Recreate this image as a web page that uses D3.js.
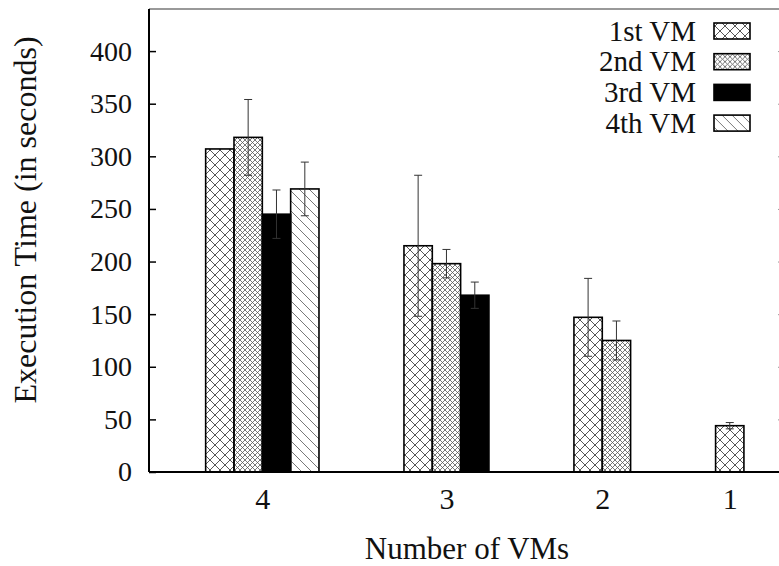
<!DOCTYPE html>
<html>
<head>
<meta charset="utf-8">
<script src="https://cdn.jsdelivr.net/npm/d3@7"></script>
<style>
  body { margin: 0; background: #fff; }
  text { font-family: "Liberation Serif", "Times New Roman", serif; fill: #111; }
</style>
</head>
<body>
<script>
// Data
var groups = ["4", "3", "2", "1"];
var series = ["1st VM", "2nd VM", "3rd VM", "4th VM"];
var vm1 = [307, 215, 147, 44];
var vm2 = [318, 198, 125, null];
var vm3 = [245, 168, null, null];
var vm4 = [269, null, null, null];
var err1 = [0, 67, 37, 3];
var err2 = [36, 13.5, 18.5, null];
var err3 = [23, 12.5, null, null];
var err4 = [25.5, null, null, null];
var yTicks = [0, 50, 100, 150, 200, 250, 300, 350, 400];

var values = [vm1, vm2, vm3, vm4];
var errors = [err1, err2, err3, err4];

var width = 779, height = 566;
var plotL = 149, plotR = 785, plotT = 9, plotB = 472;

var svg = d3.select("body").append("svg")
    .attr("width", width)
    .attr("height", height);

// fill patterns, one per VM
var defs = svg.append("defs");
var p1 = defs.append("pattern").attr("id", "p1")
    .attr("patternUnits", "userSpaceOnUse").attr("width", 10).attr("height", 10);
p1.append("path").attr("d", "M0,0L10,10M10,0L0,10M-1,9L1,11M9,-1L11,1")
    .attr("stroke", "#444").attr("stroke-width", 0.9);
var p2 = defs.append("pattern").attr("id", "p2")
    .attr("patternUnits", "userSpaceOnUse").attr("width", 5).attr("height", 5);
p2.append("path").attr("d", "M0,0L5,5M5,0L0,5")
    .attr("stroke", "#555").attr("stroke-width", 0.8);
var p4 = defs.append("pattern").attr("id", "p4")
    .attr("patternUnits", "userSpaceOnUse").attr("width", 10).attr("height", 10);
p4.append("path").attr("d", "M0,0L10,10M-5,5L5,15M5,-5L15,5")
    .attr("stroke", "#555").attr("stroke-width", 0.8);
var fills = ["url(#p1)", "url(#p2)", "#000", "url(#p4)"];

// build clustered layout: bars of a cluster sit side by side, 3 bar widths between clusters
var rows = [];
var centers = [];
var pos = 2;
groups.forEach(function (g, gi) {
    var n = 0;
    series.forEach(function (s, si) {
        if (values[si][gi] != null) {
            rows.push({ group: g, series: si, x0: pos + n, value: values[si][gi], err: errors[si][gi] });
            n++;
        }
    });
    centers.push(pos + n / 2);
    pos += n + 3;
});

var x = d3.scaleLinear().domain([0, 22.45]).range([plotL, plotR]);
var y = d3.scaleLinear().domain([0, 440]).range([plotB, plotT]);

// Bars
svg.append("g")
    .selectAll("rect")
    .data(rows)
    .enter().append("rect")
    .attr("x", function (d) { return x(d.x0); })
    .attr("y", function (d) { return y(d.value); })
    .attr("width", x(1) - x(0))
    .attr("height", function (d) { return y(0) - y(d.value); })
    .attr("fill", function (d) { return fills[d.series]; })
    .attr("stroke", "#000")
    .attr("stroke-width", 1.6);

// Error bars
var eb = svg.append("g")
    .selectAll("g")
    .data(rows.filter(function (d) { return d.err; }))
    .enter().append("g")
    .attr("stroke", "#333")
    .attr("stroke-width", 1);
eb.append("line")
    .attr("x1", function (d) { return x(d.x0 + 0.5); })
    .attr("x2", function (d) { return x(d.x0 + 0.5); })
    .attr("y1", function (d) { return y(d.value - d.err); })
    .attr("y2", function (d) { return y(d.value + d.err); });
eb.selectAll(".cap")
    .data(function (d) { return [d.value - d.err, d.value + d.err].map(function (v) { return { x0: d.x0, v: v }; }); })
    .enter().append("line")
    .attr("class", "cap")
    .attr("x1", function (d) { return x(d.x0 + 0.5) - 4; })
    .attr("x2", function (d) { return x(d.x0 + 0.5) + 4; })
    .attr("y1", function (d) { return y(d.v); })
    .attr("y2", function (d) { return y(d.v); });

// Axes
var yAxis = svg.append("g")
    .attr("transform", "translate(" + plotL + ",0)")
    .call(d3.axisLeft(y).tickValues(yTicks).tickSize(-7).tickPadding(17));
yAxis.select(".domain").remove();
yAxis.selectAll("line").attr("stroke", "#000").attr("stroke-width", 1.5);
yAxis.selectAll("text").attr("font-size", "28px").style("font-family", "Liberation Serif").attr("fill", "#111");

var yAxisR = svg.append("g")
    .attr("transform", "translate(" + plotR + ",0)")
    .call(d3.axisRight(y).tickValues(yTicks).tickSize(-7).tickFormat(""));
yAxisR.select(".domain").remove();
yAxisR.selectAll("line").attr("stroke", "#999").attr("stroke-width", 1);

var xAxis = svg.append("g")
    .attr("transform", "translate(0," + plotB + ")")
    .call(d3.axisBottom(x).tickValues(centers).tickSize(0).tickPadding(16)
        .tickFormat(function (d, i) { return groups[i]; }));
xAxis.select(".domain").remove();
xAxis.selectAll("text").attr("font-size", "30px").style("font-family", "Liberation Serif").attr("fill", "#111");

// Frame
svg.append("line").attr("x1", plotL).attr("x2", plotR).attr("y1", plotT).attr("y2", plotT)
    .attr("stroke", "#777").attr("stroke-width", 1.5);
svg.append("line").attr("x1", plotL).attr("x2", plotL).attr("y1", plotT).attr("y2", plotB)
    .attr("stroke", "#000").attr("stroke-width", 2);
svg.append("line").attr("x1", plotL).attr("x2", plotR).attr("y1", plotB).attr("y2", plotB)
    .attr("stroke", "#000").attr("stroke-width", 2);

// Axis titles
svg.append("text")
    .attr("transform", "translate(36,220) rotate(-90)")
    .attr("text-anchor", "middle")
    .attr("font-size", "32px")
    .text("Execution Time (in seconds)");
svg.append("text")
    .attr("x", (plotL + plotR) / 2)
    .attr("y", 559)
    .attr("text-anchor", "middle")
    .attr("font-size", "31px")
    .text("Number of VMs");

// Legend
var legend = svg.append("g")
    .selectAll("g")
    .data(series)
    .enter().append("g")
    .attr("transform", function (d, i) { return "translate(0," + (31 + i * 30.7) + ")"; });
legend.append("text")
    .attr("x", 696)
    .attr("dy", "0.33em")
    .attr("text-anchor", "end")
    .attr("font-size", "29px")
    .text(function (d) { return d; });
legend.append("rect")
    .attr("x", 714)
    .attr("y", -8)
    .attr("width", 36)
    .attr("height", 16)
    .attr("fill", function (d, i) { return fills[i]; })
    .attr("stroke", "#000")
    .attr("stroke-width", 1.6);
</script>
</body>
</html>
